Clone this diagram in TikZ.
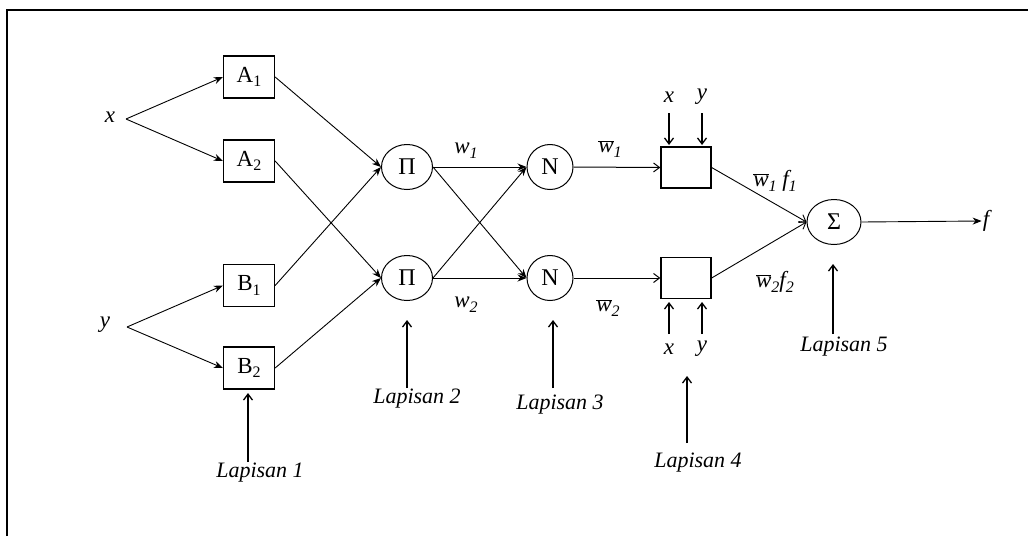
\documentclass[tikz,border=0pt]{standalone}
\usepackage{fontspec}
\setmainfont{Liberation Serif}
\usetikzlibrary{arrows.meta,shapes.geometric}
\newcommand{\sbs}[1]{\raisebox{-0.45ex}{\fontsize{16}{16}\selectfont #1}}
\newcommand{\wb}{$\overline{\hbox{\itshape w}}$}
\begin{document}
\begin{tikzpicture}[x=1pt,y=-1pt,
  box/.style={draw,line width=1.3pt,minimum width=51pt,minimum height=42pt,inner sep=0pt,font=\fontsize{23}{24}\selectfont},
  oval/.style={draw,ellipse,line width=1pt,minimum width=51pt,minimum height=45pt,inner sep=0pt,font=\fontsize{24}{26}\selectfont},
  conn/.style={line width=0.9pt,-{Stealth[length=9pt,width=7pt]}},
  barb/.style={line width=1.3pt,-{Straight Barb[length=6pt,width=9pt]}},
  lab/.style={font=\fontsize{23}{24}\selectfont\itshape,inner sep=1pt},
  lay/.style={font=\fontsize{22}{24}\selectfont\itshape,inner sep=1pt},
]
\useasboundingbox (0,0) rectangle (1028,536);
\draw[line width=2pt] (7,536) -- (7,10) -- (1028,10);

% inputs
\node[lab] (x) at (110,117) {x};
\node[lab] (y) at (105,325) {y};
\coordinate (xs) at (126,119);
\coordinate (ys) at (127,327);
% layer 1
\node[box] (A1) at (249,77) {A\sbs{1}};
\node[box] (A2) at (249,161) {A\sbs{2}};
\node[box] (B1) at (249,285.5) {B\sbs{1}};
\node[box] (B2) at (249,368) {B\sbs{2}};
% layer 2
\node[oval] (P1) at (407,167) {Π};
\node[oval] (P2) at (407,278) {Π};
% layer 3
\node[oval,minimum width=46pt] (N1) at (550,167) {N};
\node[oval,minimum width=46pt] (N2) at (550,278) {N};
% layer 4
\node[box,minimum width=50pt,minimum height=41pt] (C1) at (686,167.5) {};
\node[box,minimum width=50pt,minimum height=41pt] (C2) at (686,278) {};
% layer 5
\node[oval,minimum width=54pt] (S) at (834,222) {Σ};
\node[lab] (f) at (986,221) {f};

% edge labels
\node[lab] (w1) at (466,151) {w\sbs{1}};
\node[lab] (w2) at (466,305) {w\sbs{2}};
\node[lab] (wb1) at (610,149) {\wb\sbs{1}};
\node[lab] (wb2) at (608,308) {\wb\sbs{2}};
\node[lab] (wf1) at (775,181) {\wb\sbs{1} f\sbs{1}};
\node[lab] (wf2) at (775,282) {\wb\sbs{2}f\sbs{2}};

% x y for layer 4
\node[lab] (cx1) at (669,97) {x};
\node[lab] (cy1) at (702,97) {y};
\node[lab] (cx2) at (669,349) {x};
\node[lab] (cy2) at (702,349) {y};
\coordinate (cx1a) at (669,113); \coordinate (cx1b) at (669,145);
\coordinate (cy1a) at (702,113); \coordinate (cy1b) at (702,145);
\coordinate (cx2a) at (669,334); \coordinate (cx2b) at (669,302);
\coordinate (cy2a) at (702,334); \coordinate (cy2b) at (702,302);

% layer labels
\node[lay] (L1) at (260,473) {Lapisan 1};
\node[lay] (L2) at (417,399) {Lapisan 2};
\node[lay] (L3) at (560,405) {Lapisan 3};
\node[lay] (L4) at (698,463) {Lapisan 4};
\node[lay] (L5) at (844,347) {Lapisan 5};
\coordinate (L1a) at (248,462); \coordinate (L1b) at (248,393);
\coordinate (L2a) at (407,388); \coordinate (L2b) at (407,320);
\coordinate (L3a) at (553,388); \coordinate (L3b) at (553,320);
\coordinate (L4a) at (687,443); \coordinate (L4b) at (687,376);
\coordinate (L5a) at (833,334); \coordinate (L5b) at (833,264);

% connectors
\draw[conn] (xs) -- (A1.west);
\draw[conn] (xs) -- (A2.west);
\draw[conn] (ys) -- (B1.west);
\draw[conn] (ys) -- (B2.west);

\draw[conn] (A1.east) -- (P1.west);
\draw[conn] (B1.east) -- (P1.west);
\draw[conn] (A2.east) -- (P2.west);
\draw[conn] (B2.east) -- (P2.west);

\draw[conn] (P1.east) -- (N1.west);
\draw[conn] (P1.east) -- (N2.west);
\draw[conn] (P2.east) -- (N1.west);
\draw[conn] (P2.east) -- (N2.west);

\draw[barb,line width=1pt] (N1.east) -- (C1.west);
\draw[barb,line width=1pt] (N2.east) -- (C2.west);

\draw[barb,line width=0.9pt] (C1.east) -- (S.west);
\draw[barb,line width=0.9pt] (C2.east) -- (S.west);
\draw[conn] (S.east) -- (f.west);

\draw[barb] (cx1a) -- (cx1b);
\draw[barb] (cy1a) -- (cy1b);
\draw[barb] (cx2a) -- (cx2b);
\draw[barb] (cy2a) -- (cy2b);

\draw[barb] (L1a) -- (L1b);
\draw[barb] (L2a) -- (L2b);
\draw[barb] (L3a) -- (L3b);
\draw[barb] (L4a) -- (L4b);
\draw[barb] (L5a) -- (L5b);
\end{tikzpicture}
\end{document}
